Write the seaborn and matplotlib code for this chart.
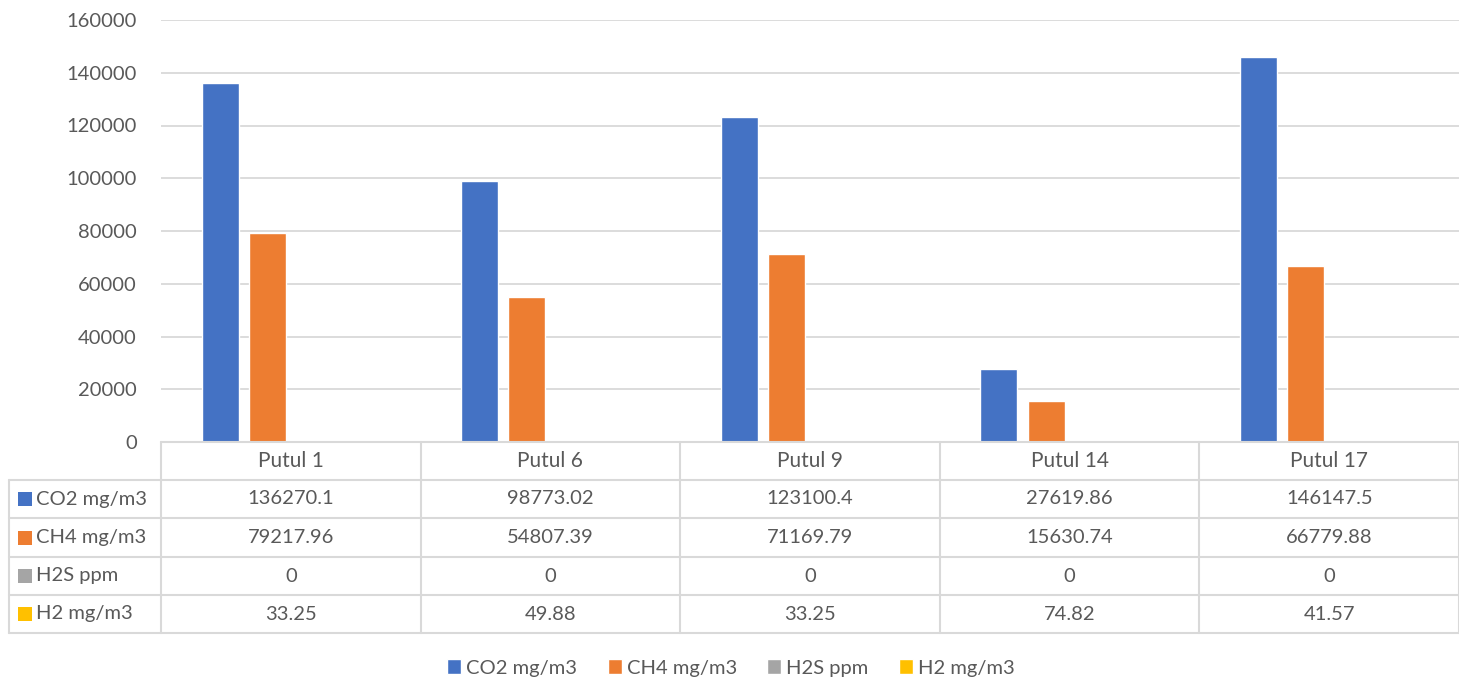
import matplotlib
matplotlib.use("Agg")
import matplotlib.pyplot as plt
import matplotlib.transforms as mtransforms
from matplotlib.patches import Rectangle
import seaborn as sns
import pandas as pd

categories = ["Putul 1", "Putul 6", "Putul 9", "Putul 14", "Putul 17"]
series_names = ["CO2 mg/m3", "CH4 mg/m3", "H2S ppm", "H2 mg/m3"]
co2 = [136270.1, 98773.02, 123100.4, 27619.86, 146147.5]
ch4 = [79217.96, 54807.39, 71169.79, 15630.74, 66779.88]
h2s = [0, 0, 0, 0, 0]
h2 = [33.25, 49.88, 33.25, 74.82, 41.57]
yticks = [0, 20000, 40000, 60000, 80000, 100000, 120000, 140000, 160000]
colors = ["#4472C4", "#ED7D31", "#A5A5A5", "#FFC000"]

series_values = [co2, ch4, h2s, h2]
rows = []
for name, vals in zip(series_names, series_values):
    for c, v in zip(categories, vals):
        rows.append({"category": c, "series": name, "value": v})
df = pd.DataFrame(rows)

sns.set_theme(style="white")
FONT = ["Lato", "DejaVu Sans"]
plt.rcParams["font.family"] = FONT
TXT = "#595959"
LINE = "#D9D9D9"

W, H = 1459, 682
fig = plt.figure(figsize=(W / 100, H / 100), dpi=100)
ax = fig.add_axes([161 / W, 1 - 442 / H, (W - 161) / W, 422 / H])

sns.barplot(data=df, x="category", y="value", hue="series", order=categories,
            hue_order=series_names, palette=colors, width=0.727, gap=0.216,
            saturation=1, ax=ax, legend=True)

ax.set_xlim(-0.5, 4.5)
ax.set_ylim(0, 160000)
ax.set_yticks(yticks)
ax.set_yticklabels([str(t) for t in yticks], fontsize=14.5, color=TXT)
ax.tick_params(axis="y", length=0, pad=17.5)
ax.set_xticks([])
ax.set_xlabel("")
ax.set_ylabel("")
for s in ax.spines.values():
    s.set_visible(False)
ax.yaxis.grid(True, color=LINE, linewidth=1.3)
ax.set_axisbelow(True)

# legend
handles, labels = ax.get_legend_handles_labels()
ax.get_legend().remove()
fig.legend(handles, labels, loc="center", bbox_to_anchor=(731 / W, 1 - 668 / H),
           ncol=4, frameon=False, fontsize=14.5, handlelength=0.7, handleheight=0.7,
           handletextpad=0.25, columnspacing=1.5, labelcolor=TXT)

# data table
tr = mtransforms.blended_transform_factory(ax.transData, fig.transFigure)
def fy(px):
    return 1 - px / H

row_y = [442, 480, 518, 557, 595, 633]
fig.add_artist(plt.Line2D([-0.5, 4.5], [fy(442), fy(442)], transform=tr, color=LINE, lw=1.5))
for y in row_y[1:]:
    fig.add_artist(plt.Line2D([9 / W, 1.0], [fy(y), fy(y)], transform=fig.transFigure,
                              color=LINE, lw=1.5))
for i in range(len(categories) + 1):
    x = i - 0.5
    fig.add_artist(plt.Line2D([x, x], [fy(442), fy(633)], transform=tr, color=LINE, lw=1.5))
fig.add_artist(plt.Line2D([9 / W, 9 / W], [fy(480), fy(633)], transform=fig.transFigure,
                          color=LINE, lw=1.5))

def fmt(v):
    return "%.10g" % v

yc = (row_y[0] + row_y[1]) / 2
for i, c in enumerate(categories):
    fig.text(i, fy(yc), c, transform=tr, ha="center", va="center", fontsize=15, color=TXT)
for r, (name, vals, col) in enumerate(zip(series_names, series_values, colors)):
    yc = (row_y[r + 1] + row_y[r + 2]) / 2
    fig.add_artist(Rectangle((18 / W, fy(yc + 7)), 14 / W, 14 / H, transform=fig.transFigure,
                             facecolor=col, edgecolor="none"))
    fig.text(36 / W, fy(yc), name, ha="left", va="center", fontsize=14.5, color=TXT)
    for i, v in enumerate(vals):
        fig.text(i, fy(yc), fmt(v), transform=tr, ha="center", va="center",
                 fontsize=14.5, color=TXT)

fig.savefig("out.png", dpi=100, facecolor="white")
